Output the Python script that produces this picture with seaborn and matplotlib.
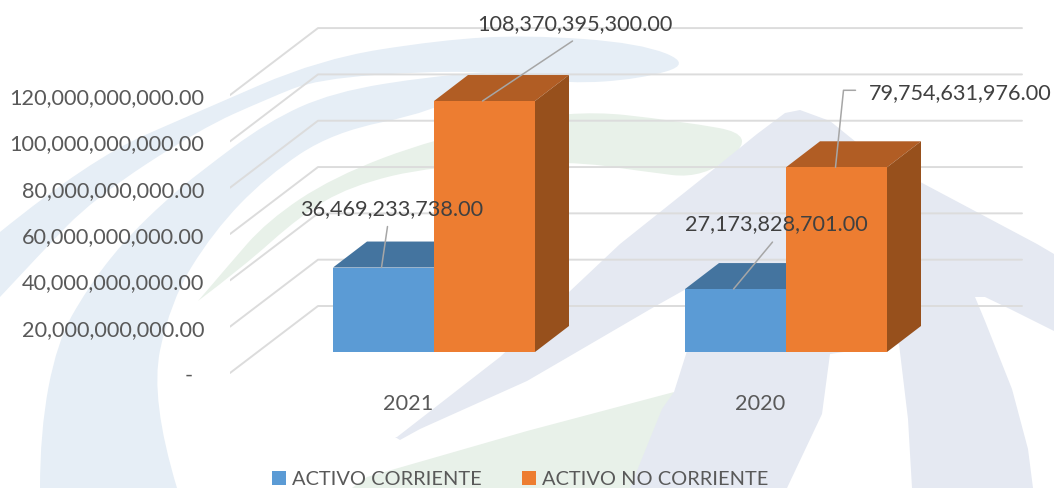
import matplotlib
matplotlib.use('Agg')
import matplotlib.pyplot as plt
from matplotlib.patches import PathPatch, Polygon
from matplotlib.path import Path
from matplotlib.transforms import ScaledTranslation
import pandas as pd
import seaborn as sns

# data
years = ['2021', '2020']
activo_corriente = [36469233738.00, 27173828701.00]
activo_no_corriente = [108370395300.00, 79754631976.00]
series_names = ['ACTIVO CORRIENTE', 'ACTIVO NO CORRIENTE']
y_ticks = [0, 20e9, 40e9, 60e9, 80e9, 100e9, 120e9]

W, H = 1054, 489
PX_PER_VALUE = 2.316e-9   # pixels per unit of value
PX_PER_CAT = 352          # pixels between the two year groups
BAR_LEFT_CENTER = 434     # pixel x of the first year group
BAR_BASE = 353            # pixel y of the bar bottoms
FLOOR_FRONT = 374         # pixel y of the zero tick
TEXT_GREY = '#595959'
LABEL_GREY = '#404040'
FONT_SIZE = 15.6

sns.set_theme(style='white')
plt.rcParams['font.family'] = ['Lato', 'DejaVu Sans']

df = pd.DataFrame({
    'year': years * 2,
    'serie': [series_names[0]] * 2 + [series_names[1]] * 2,
    'value': activo_corriente + activo_no_corriente,
})

fig = plt.figure(figsize=(W / 100, H / 100), dpi=100)

# watermark behind the chart, in pixel coordinates
bg = fig.add_axes([0, 0, 1, 1], zorder=0)
bg.set_xlim(0, W)
bg.set_ylim(H, 0)
bg.axis('off')


def smooth_patch(points, color):
    # quadratic spline, the points act as control points
    verts = [points[0]]
    codes = [Path.MOVETO]
    for i in range(1, len(points) - 1):
        p = points[i]
        n = points[i + 1]
        end = n if i == len(points) - 2 else ((p[0] + n[0]) / 2, (p[1] + n[1]) / 2)
        verts += [p, end]
        codes += [Path.CURVE3, Path.CURVE3]
    verts.append(verts[0])
    codes.append(Path.CLOSEPOLY)
    bg.add_patch(PathPatch(Path(verts, codes), fc=color, ec='none'))


band_blue = '#e6eef6'
main_blue = '#e5e9f2'
soft_green = '#e8f1e9'

# outer swoosh
smooth_patch([(0, 233), (90, 160), (200, 112), (320, 60), (440, 41), (527, 36), (640, 44), (692, 65),
              (640, 80), (568, 85), (500, 74), (433, 72), (317, 80), (267, 100), (200, 130), (93, 200), (40, 255),
              (0, 298)],
             band_blue)
# inner swoosh running down to the bottom edge
smooth_patch([(40, 489), (40, 433), (57, 343), (87, 290), (123, 243), (167, 200), (200, 173), (267, 123), (333, 93),
              (433, 77), (510, 72), (433, 113), (333, 133), (267, 177), (213, 233), (170, 303), (150, 400),
              (177, 489)],
             band_blue)
# green swoosh
smooth_patch([(198, 302), (227, 268), (267, 222), (333, 178), (433, 140), (570, 110), (680, 122), (758, 136),
              (704, 180), (640, 172), (570, 162), (433, 167), (350, 187), (300, 217), (243, 268), (198, 302)],
             soft_green)
bg.add_patch(Polygon([(352, 489), (367, 478), (527, 432), (674, 393), (640, 489)], fc=soft_green, ec='none'))
# central triangle and the right hand arm
bg.add_patch(Polygon([(397, 438), (500, 358), (620, 245), (704, 178), (757, 135), (785, 114), (800, 111),
                      (830, 122), (877, 160), (1037, 245), (1054, 255), (1054, 332), (1010, 310),
                      (985, 298), (975, 298), (985, 322), (1012, 390), (1028, 450), (1033, 489),
                      (912, 489), (908, 420), (899, 345), (830, 355), (822, 415), (787, 489),
                      (630, 489), (662, 410), (674, 393), (687, 352), (695, 285), (654, 308), (570, 357),
                      (527, 382), (420, 430), (400, 441), (395, 438)],
                     fc=main_blue, ec='none'))

# back wall with the value axis; zero sits at FLOOR_FRONT
wall = fig.add_axes([230 / W, 0, (W - 230) / W, 1], zorder=1)
wall.patch.set_alpha(0)
wall.set_xlim(230, W)
wall.set_ylim(-(H - FLOOR_FRONT) / PX_PER_VALUE, FLOOR_FRONT / PX_PER_VALUE)
wall_rise = 67 / PX_PER_VALUE
for v in y_ticks:
    sns.lineplot(x=[230, 318, 1022], y=[v, v + wall_rise, v + wall_rise], sort=False,
                 estimator=None, color='#dcdcdc', lw=1.4, ax=wall)
wall.set_yticks(y_ticks)
wall.set_yticklabels(['-  ' if v == 0 else f'{v:,.2f}' for v in y_ticks], color=TEXT_GREY, fontsize=FONT_SIZE)
wall.tick_params(axis='y', length=0, pad=18.5)
wall.set_xticks([])
wall.set_xlabel('')
wall.set_ylabel('')
sns.despine(ax=wall, left=True, bottom=True)

# bars, the axes bottom is just below the bar base so the year labels fit
axis_bottom = 380
ax = fig.add_axes([0, (H - axis_bottom) / H, 1, axis_bottom / H], zorder=2)
ax.patch.set_alpha(0)
sns.barplot(data=df, x='year', y='value', hue='serie', order=years, hue_order=series_names,
            palette=['#5B9BD5', '#ED7D31'], width=202 / PX_PER_CAT, gap=0, saturation=1, linewidth=0,
            ax=ax, zorder=3)
ax.set_xlim(-BAR_LEFT_CENTER / PX_PER_CAT, (W - BAR_LEFT_CENTER) / PX_PER_CAT)
ax.set_ylim(-(axis_bottom - BAR_BASE) / PX_PER_VALUE, BAR_BASE / PX_PER_VALUE)
ax.set_xlabel('')
ax.set_ylabel('')
ax.set_yticks([])
sns.despine(ax=ax, left=True, bottom=True)
ax.tick_params(axis='x', length=0, pad=10, labelsize=FONT_SIZE, labelcolor=TEXT_GREY)
for lab in ax.get_xticklabels():
    lab.set_transform(lab.get_transform() + ScaledTranslation(-26 / 100, 0, fig.dpi_scale_trans))

# fake 3d: top and side faces built from each drawn bar
depth_x = 34 / PX_PER_CAT
depth_y = 26 / PX_PER_VALUE
face_colors = [('#44749F', '#3A6186'), ('#B15D24', '#97501C')]
for container, (top_c, side_c) in zip(ax.containers, face_colors):
    for bar in container:
        x0, x1 = bar.get_x(), bar.get_x() + bar.get_width()
        y1 = bar.get_height()
        ax.add_patch(Polygon([(x0, y1), (x1, y1), (x1 + depth_x, y1 + depth_y), (x0 + depth_x, y1 + depth_y)],
                             fc=top_c, ec='none', zorder=2))
        ax.add_patch(Polygon([(x1, 0), (x1 + depth_x, depth_y), (x1 + depth_x, y1 + depth_y), (x1, y1)],
                             fc=side_c, ec='none', zorder=2))

# data labels with leader lines, offsets in pixels from the top centre of the bar
# indexed by [series][year]
leaders = [
    [[(-2, 0), (4, 41)], [(-2, 0), (37, 47)]],
    [[(-2, 0), (88, 60)], [(-1, 0), (7, 77), (19, 77)]],
]
label_offsets = [
    [(8, 59), (41, 66)],
    [(90, 78), (32, 75)],
]
label_ha = [['center', 'center'], ['center', 'left']]
for s, container in enumerate(ax.containers):
    for c, bar in enumerate(container):
        cx = bar.get_x() + bar.get_width() / 2
        val = bar.get_height()
        path = leaders[s][c]
        ax.plot([cx + p[0] / PX_PER_CAT for p in path], [val + p[1] / PX_PER_VALUE for p in path],
                color='#A6A6A6', lw=1.1, zorder=5)
        ax.annotate(f'{val:,.2f}', xy=(cx, val), xytext=label_offsets[s][c], textcoords='offset pixels',
                    ha=label_ha[s][c], va='center', color=LABEL_GREY, fontsize=FONT_SIZE, zorder=6,
                    annotation_clip=False)

handles, labels = ax.get_legend_handles_labels()
ax.get_legend().remove()
fig.legend(handles, labels, loc='center', bbox_to_anchor=(520 / W, (H - 480) / H), ncols=2, frameon=False,
           fontsize=14.4, labelcolor=TEXT_GREY, handlelength=0.7, handleheight=0.7, handletextpad=0.3,
           columnspacing=2.0, borderpad=0)

fig.savefig('out.png', dpi=100)
